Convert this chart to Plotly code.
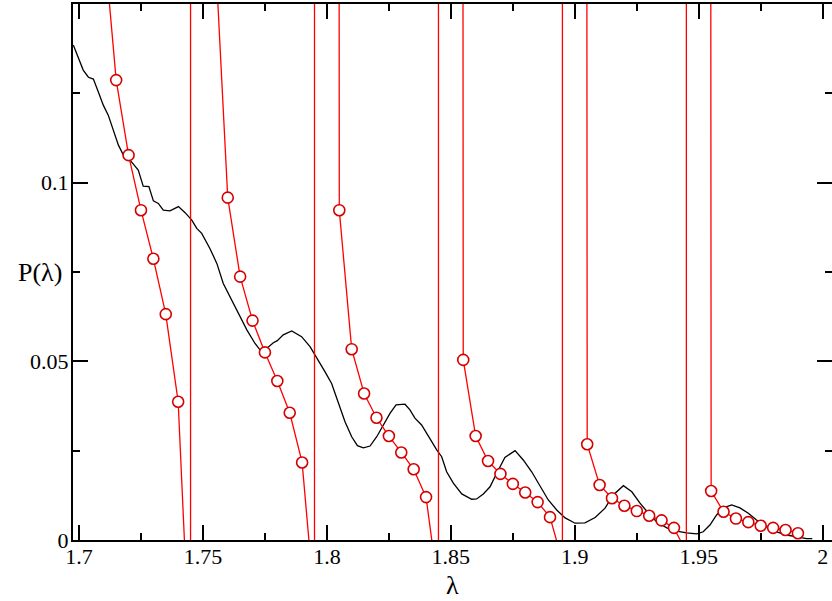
import plotly.graph_objects as go

# ---------------- data ----------------
# black curve: P(lambda)
black_lam = [1.6977, 1.6997, 1.7017, 1.7038, 1.7058, 1.7078, 1.7098, 1.7118, 1.7138, 1.7159,
             1.7179, 1.7206, 1.7239, 1.7259, 1.7282, 1.7300, 1.7320, 1.7340, 1.7367, 1.7401,
             1.7428, 1.7455, 1.7475, 1.7495, 1.7528, 1.7556, 1.7582, 1.7616, 1.7649, 1.7677,
             1.7710, 1.7730, 1.7757, 1.7784, 1.7800, 1.7824, 1.7858, 1.7898, 1.7932, 1.7965,
             1.7992, 1.8019, 1.8046, 1.8073, 1.8100, 1.8123, 1.8147, 1.8174, 1.8201, 1.8234,
             1.8255, 1.8279, 1.8315, 1.8335, 1.8355, 1.8382, 1.8402, 1.8423, 1.8443, 1.8463,
             1.8483, 1.8510, 1.8544, 1.8584, 1.8604, 1.8631, 1.8658, 1.8685, 1.8718, 1.8759,
             1.8792, 1.8826, 1.8860, 1.8893, 1.8927, 1.8961, 1.9001, 1.9041, 1.9082, 1.9122,
             1.9155, 1.9196, 1.9230, 1.9263, 1.9297, 1.9330, 1.9371, 1.9411, 1.9451, 1.9492,
             1.9518, 1.9545, 1.9572, 1.9599, 1.9633, 1.9666, 1.9700, 1.9733, 1.9774, 1.9814,
             1.9855, 1.9895, 1.9935, 1.9958]
black_P = [0.1385, 0.1352, 0.1315, 0.1295, 0.1290, 0.1254, 0.1217, 0.1189, 0.1147, 0.1105,
           0.1077, 0.1063, 0.1035, 0.0990, 0.0989, 0.0949, 0.0942, 0.0923, 0.0921, 0.0933,
           0.0916, 0.0895, 0.0872, 0.0858, 0.0816, 0.0774, 0.0718, 0.0672, 0.0625, 0.0588,
           0.0550, 0.0532, 0.0536, 0.0552, 0.0558, 0.0574, 0.0585, 0.0569, 0.0541, 0.0504,
           0.0471, 0.0438, 0.0382, 0.0331, 0.0289, 0.0264, 0.0258, 0.0263, 0.0289, 0.0327,
           0.0355, 0.0378, 0.0380, 0.0364, 0.0341, 0.0322, 0.0299, 0.0271, 0.0252, 0.0233,
           0.0191, 0.0159, 0.0129, 0.0114, 0.0115, 0.0129, 0.0149, 0.0187, 0.0231, 0.0250,
           0.0224, 0.0191, 0.0149, 0.0112, 0.0084, 0.0062, 0.0047, 0.0048, 0.0063, 0.0089,
           0.0126, 0.0152, 0.0135, 0.0103, 0.0075, 0.0051, 0.0034, 0.0025, 0.0020, 0.0017,
           0.0023, 0.0042, 0.0070, 0.0090, 0.0098, 0.0090, 0.0075, 0.0056, 0.0037, 0.0023,
           0.0014, 0.0008, 0.0004, 0.0004]

# red branches (points outside the frame continue the lines off-scale)
branch1_lam = [1.710, 1.715, 1.720, 1.725, 1.730, 1.735, 1.740, 1.745]
branch1_P = [0.168, 0.1287, 0.1077, 0.0923, 0.0787, 0.0632, 0.0387, -0.038]
branch2_lam = [1.755, 1.760, 1.765, 1.770, 1.775, 1.780, 1.785, 1.790, 1.795]
branch2_P = [0.164, 0.0958, 0.0737, 0.0614, 0.0525, 0.0445, 0.0356, 0.0217, -0.018]
branch3_lam = [1.800, 1.805, 1.810, 1.815, 1.820, 1.825, 1.830, 1.835, 1.840, 1.845]
branch3_P = [5.0, 0.0923, 0.0534, 0.0410, 0.0342, 0.0291, 0.0245, 0.0198, 0.0120, -0.014]
branch4_lam = [1.850, 1.855, 1.860, 1.865, 1.870, 1.875, 1.880, 1.885, 1.890, 1.895]
branch4_P = [5.0, 0.0504, 0.0291, 0.0221, 0.0185, 0.0157, 0.0133, 0.0106, 0.0064, -0.006]
branch5_lam = [1.900, 1.905, 1.910, 1.915, 1.920, 1.925, 1.930, 1.935, 1.940, 1.945]
branch5_P = [5.0, 0.0268, 0.0154, 0.0117, 0.0096, 0.0081, 0.0068, 0.0055, 0.0034, -0.0034]
branch6_lam = [1.950, 1.955, 1.960, 1.965, 1.970, 1.975, 1.980, 1.985, 1.990]
branch6_P = [5.0, 0.0137, 0.0079, 0.0060, 0.0050, 0.0040, 0.0034, 0.0028, 0.0019]

# vertical red lines (asymptotes)
asymptotes = [1.745, 1.795, 1.845, 1.895, 1.945]

x_tick_vals = [1.7, 1.75, 1.8, 1.85, 1.9, 1.95, 2.0]
x_tick_text = ["1.7", "1.75", "1.8", "1.85", "1.9", "1.95", "2"]
y_tick_vals = [0, 0.05, 0.1, 0.15]
y_tick_text = ["0", "0.05", "0.1", ""]

# ---------------- figure ----------------
RED = "#ff0000"
MRED = "#d40000"
FONT = "Liberation Serif"

fig = go.Figure()

branches = [(branch1_lam, branch1_P), (branch2_lam, branch2_P), (branch3_lam, branch3_P),
            (branch4_lam, branch4_P), (branch5_lam, branch5_P), (branch6_lam, branch6_P)]

fig.add_trace(go.Scatter(x=black_lam, y=black_P, mode="lines",
                         line=dict(color="black", width=1.3), showlegend=False,
                         hoverinfo="skip"))

for bl, bp in branches:
    fig.add_trace(go.Scatter(x=bl, y=bp, mode="lines+markers",
                             line=dict(color=RED, width=1.3),
                             marker=dict(symbol="circle", size=11, color="white",
                                         line=dict(color=MRED, width=1.6)),
                             showlegend=False))

for a in asymptotes:
    fig.add_vline(x=a, line_color=RED, line_width=1.3)

axis_common = dict(showgrid=False, zeroline=False, showline=True, linecolor="black",
                   linewidth=2, mirror="ticks", ticks="inside", ticklen=15, tickwidth=1.5,
                   tickcolor="black", automargin=False,
                   tickfont=dict(family=FONT, size=22, color="black"))

fig.update_xaxes(range=[1.69758, 2.00375], tickvals=x_tick_vals, ticktext=x_tick_text,
                 ticklabelstandoff=-4,
                 minor=dict(ticks="inside", ticklen=7, tickwidth=1.5, tickcolor="black",
                            dtick=0.025, tick0=1.7),
                 **axis_common)
fig.update_yaxes(range=[0, 0.15], tickvals=y_tick_vals, ticktext=y_tick_text,
                 ticklabelstandoff=-2,
                 minor=dict(ticks="inside", ticklen=7, tickwidth=1.5, tickcolor="black",
                            dtick=0.025, tick0=0),
                 **axis_common)

fig.add_annotation(text="P(λ)", xref="paper", yref="paper", x=-0.043, y=0.5,
                   xanchor="center", yanchor="middle", showarrow=False,
                   font=dict(family=FONT, size=26, color="black"))
fig.add_annotation(text="λ", xref="paper", yref="paper", x=0.5, y=-0.084,
                   xanchor="center", yanchor="middle", showarrow=False,
                   font=dict(family=FONT, size=26, color="black"))

fig.update_layout(width=832, height=601, margin=dict(l=73, r=0, t=4, b=61),
                  plot_bgcolor="white", paper_bgcolor="white", showlegend=False)

fig.write_html("out.html", config={"displayModeBar": False},
               post_script="document.body.style.margin='0';document.body.style.overflow='hidden';")
